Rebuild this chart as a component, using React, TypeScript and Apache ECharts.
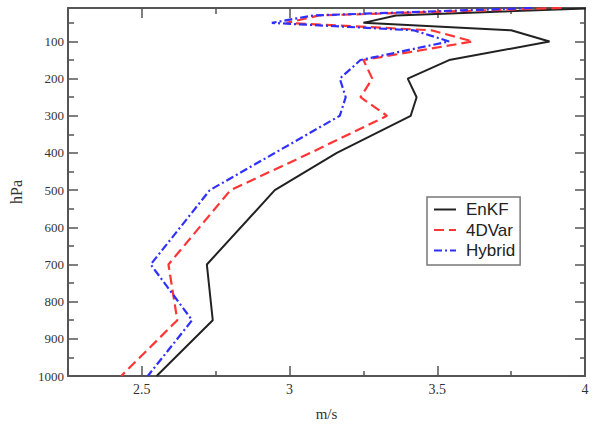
import React, { useEffect, useRef } from "react";
import * as echarts from "echarts";

const levels = [10, 30, 50, 70, 100, 150, 200, 250, 300, 400, 500, 700, 850, 1000];
const enkf = [4.05, 3.36, 3.25, 3.75, 3.88, 3.54, 3.4, 3.43, 3.41, 3.16, 2.95, 2.72, 2.74, 2.55];
const fourDVar = [3.92, 3.1, 2.99, 3.48, 3.62, 3.25, 3.28, 3.24, 3.33, 3.07, 2.8, 2.59, 2.62, 2.43];
const hybrid = [3.82, 3.08, 2.94, 3.42, 3.54, 3.24, 3.17, 3.19, 3.17, 2.95, 2.73, 2.53, 2.67, 2.52];

const xMajor = [2.5, 3, 3.5, 4];
const xMinor = [2.75, 3.25, 3.75];
const yMajor = [100, 200, 300, 400, 500, 600, 700, 800, 900, 1000];
const yMinor = [50, 150, 250, 350, 450, 550, 650, 750, 850, 950];

const AX = "#555";
const SERIF = "Liberation Serif";

function pairs(vals: number[]) {
  return vals.map((v, i) => [v, levels[i]]);
}

export default function App() {
  const ref = useRef<HTMLDivElement>(null);
  useEffect(() => {
    if (!ref.current) return;
    const chart = echarts.init(ref.current, undefined, { renderer: "svg" });
    const baseX = (pos: string, ticks: number[], len: number, labels: boolean, line: boolean, extra: any = {}) => ({
      type: "value",
      position: pos,
      min: 2.25,
      max: 4,
      axisLine: { show: line, onZero: false, lineStyle: { color: AX, width: 2 } },
      axisTick: { show: true, inside: true, length: len, customValues: ticks, lineStyle: { color: AX, width: 1.5 } },
      axisLabel: labels
        ? { show: true, customValues: ticks, fontFamily: SERIF, fontSize: 14, color: "#333", margin: 6, formatter: (v: number) => String(v) }
        : { show: false },
      splitLine: { show: false },
      ...extra,
    });
    const baseY = (pos: string, ticks: number[], len: number, labels: boolean, line: boolean, extra: any = {}) => ({
      type: "value",
      position: pos,
      inverse: true,
      min: 10,
      max: 1000,
      axisLine: { show: line, onZero: false, lineStyle: { color: AX, width: 2 } },
      axisTick: { show: true, inside: true, length: len, customValues: ticks, lineStyle: { color: AX, width: 1.5 } },
      axisLabel: labels
        ? { show: true, customValues: ticks, fontFamily: SERIF, fontSize: 13, color: "#333", margin: 4, formatter: (v: number) => String(v) }
        : { show: false },
      splitLine: { show: false },
      ...extra,
    });
    chart.setOption({
      animation: false,
      backgroundColor: "#fff",
      grid: { left: 61, right: 17, top: 8, bottom: 40, containLabel: false },
      xAxis: [
        baseX("bottom", xMajor, 10, true, true, {
          name: "m/s",
          nameLocation: "middle",
          nameGap: 30,
          nameTextStyle: { fontFamily: SERIF, fontSize: 15, color: "#333" },
        }),
        baseX("bottom", xMinor, 5, false, false),
        baseX("top", xMajor, 10, false, true),
        baseX("top", xMinor, 6, false, false),
      ],
      yAxis: [
        baseY("left", yMajor, 10, true, true, {
          name: "hPa",
          nameLocation: "middle",
          nameGap: 44,
          nameRotate: 90,
          nameTextStyle: { fontFamily: SERIF, fontSize: 16, color: "#333" },
        }),
        baseY("left", yMinor, 6, false, false),
        baseY("right", yMajor, 10, false, true),
        baseY("right", yMinor, 5, false, false),
      ],
      legend: {
        orient: "vertical",
        left: 427,
        top: 197,
        borderColor: "#777",
        borderWidth: 1.5,
        padding: [4, 5, 6, 6],
        itemWidth: 22,
        itemHeight: 14,
        itemGap: 3.5,
        itemStyle: { opacity: 0, borderWidth: 0 },
        textStyle: {
          fontFamily: "Liberation Sans",
          fontSize: 17,
          lineHeight: 17,
          color: "#222",
          padding: [0, 0, 0, 5],
        },
        data: ["EnKF", "4DVar", "Hybrid"],
      },
      series: [
        {
          name: "EnKF",
          type: "line",
          data: pairs(enkf),
          symbol: "none",
          xAxisIndex: 0,
          yAxisIndex: 0,
          color: "#222",
          lineStyle: { color: "#222", width: 2 },
        },
        {
          name: "4DVar",
          type: "line",
          data: pairs(fourDVar),
          symbol: "none",
          xAxisIndex: 0,
          yAxisIndex: 0,
          color: "#ff3535",
          lineStyle: { color: "#ff3535", width: 2.2, type: [10, 5] },
        },
        {
          name: "Hybrid",
          type: "line",
          data: pairs(hybrid),
          symbol: "none",
          xAxisIndex: 0,
          yAxisIndex: 0,
          color: "#2f2fff",
          lineStyle: { color: "#2f2fff", width: 2.2, type: [8, 3, 2, 3] },
        },
      ],
    });
    return () => chart.dispose();
  }, []);
  return <div ref={ref} style={{ width: 602, height: 426, position: "fixed", left: 0, top: 0 }} />;
}
